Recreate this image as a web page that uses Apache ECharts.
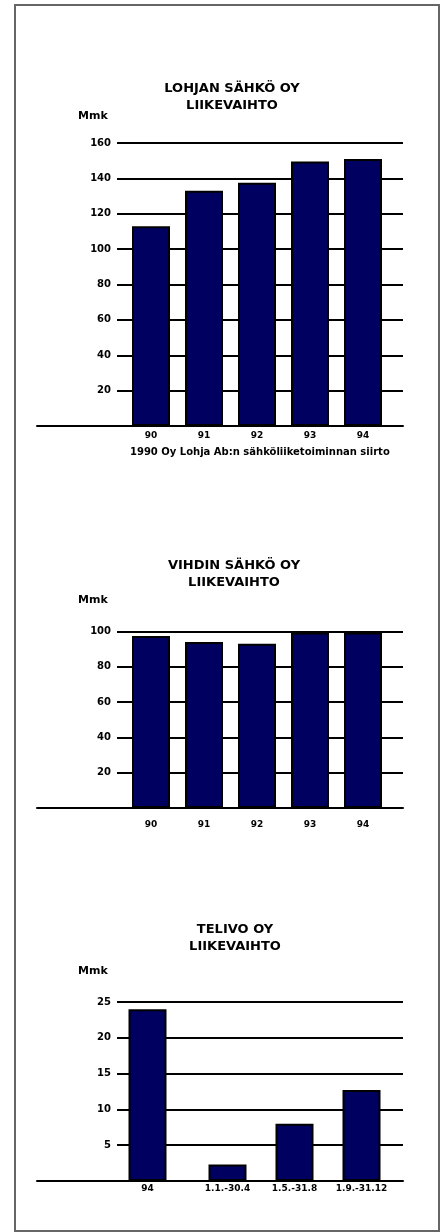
<!DOCTYPE html>
<html><head><meta charset="utf-8">
<script src="https://cdn.jsdelivr.net/npm/echarts@6/dist/echarts.min.js"></script>
<style>html,body{margin:0;padding:0;background:#fff}#c{width:442px;height:1232px}</style>
</head><body><div id="c"></div>
<script>
// ---- data ----
const title1 = "LOHJAN SÄHKÖ OY\nLIIKEVAIHTO";
const years1 = ["90", "91", "92", "93", "94"];
const values1 = [113, 133, 137.5, 149.5, 151];
const ticks1 = {min: 0, max: 160, interval: 20};
const footnote1 = "1990 Oy Lohja Ab:n sähköliiketoiminnan siirto";

const title2 = "VIHDIN SÄHKÖ OY\nLIIKEVAIHTO";
const years2 = ["90", "91", "92", "93", "94"];
const values2 = [97.5, 94, 93, 99.5, 99.5];
const ticks2 = {min: 0, max: 100, interval: 20};

const title3 = "TELIVO OY\nLIIKEVAIHTO";
const year3 = ["94"];
const value3 = [24];
const periods3 = ["1.1.-30.4", "1.5.-31.8", "1.9.-31.12"];
const periodValues3 = [2.3, 8, 12.7];
const ticks3 = {min: 0, max: 25, interval: 5};

const unit = "Mmk";

// ---- styles ----
const H = 1232, W = 442;
const NAVY = '#000060';
const FONT = 'DejaVu Sans';
const grids = [], xAxes = [], yAxes = [], series = [], graphics = [];

function addGrid(g) { grids.push(g); return grids.length - 1; }

function buildChart(cfg) {
  const top = cfg.top, bottom = H - cfg.zero;
  const gA = addGrid({left: 117, right: W - 403, top: top, bottom: bottom});
  xAxes.push({gridIndex: gA, type: 'category', show: false, data: []});
  yAxes.push({gridIndex: gA, type: 'value', min: cfg.ticks.min, max: cfg.ticks.max, interval: cfg.ticks.interval,
    axisLine: {show: false}, axisTick: {show: false},
    axisLabel: {color: '#000', fontFamily: FONT, fontWeight: 'bold', fontSize: 10, margin: 6,
      formatter: v => v === 0 ? '' : String(v)},
    splitLine: {lineStyle: {color: '#000', width: 2}}});
  const gB = addGrid({left: 37, right: W - 403, top: top, bottom: bottom});
  xAxes.push({gridIndex: gB, type: 'category', data: [], axisLine: {show: true, lineStyle: {color: '#000', width: 2}},
    axisTick: {show: false}, axisLabel: {show: false}, z: 5});
  yAxes.push({gridIndex: gB, type: 'value', show: false, min: cfg.ticks.min, max: cfg.ticks.max});
  cfg.bars.forEach(b => {
    const g = addGrid({left: b.left, right: W - b.rightEdge, top: top, bottom: bottom});
    xAxes.push({gridIndex: g, type: 'category', data: b.cats, axisLine: {show: false}, axisTick: {show: false},
      axisLabel: {color: '#000', fontFamily: FONT, fontWeight: 'bold', fontSize: 9, margin: cfg.labelMargin, interval: 0}});
    yAxes.push({gridIndex: g, type: 'value', show: false, min: cfg.ticks.min, max: cfg.ticks.max});
    series.push({type: 'bar', xAxisIndex: xAxes.length - 1, yAxisIndex: yAxes.length - 1, data: b.vals,
      barWidth: 38, itemStyle: {color: NAVY, borderColor: '#000', borderWidth: 2}, z: 2});
  });
  graphics.push({type: 'text', x: cfg.titleX, y: cfg.titleTop,
    style: {text: cfg.title, fill: '#000', font: 'bold 13px ' + FONT, textAlign: 'center', lineHeight: 17}});
  graphics.push({type: 'text', left: 78, top: cfg.unitTop,
    style: {text: unit, fill: '#000', font: 'bold 11px ' + FONT}});
}

buildChart({top: 143, zero: 426, ticks: ticks1, title: title1, titleX: 232, titleTop: 80, unitTop: 111, labelMargin: 5,
  bars: [{cats: years1, vals: values1, left: 124.5, rightEdge: 389.5}]});
buildChart({top: 631.5, zero: 808, ticks: ticks2, title: title2, titleX: 234, titleTop: 557, unitTop: 595, labelMargin: 12,
  bars: [{cats: years2, vals: values2, left: 124.5, rightEdge: 389.5}]});
buildChart({top: 1002, zero: 1181, ticks: ticks3, title: title3, titleX: 235, titleTop: 921, unitTop: 966, labelMargin: 3,
  bars: [{cats: year3, vals: value3, left: 121, rightEdge: 174},
         {cats: periods3, vals: periodValues3, left: 194, rightEdge: 395}]});

graphics.push({type: 'text', left: 130, top: 447,
  style: {text: footnote1, fill: '#000', font: 'bold 10px ' + FONT}});
graphics.push({type: 'rect', shape: {x: 15, y: 5, width: 424, height: 1226},
  style: {fill: 'none', stroke: '#666', lineWidth: 2}, z: 10});

const chart = echarts.init(document.getElementById('c'), null, {renderer: 'canvas'});
chart.setOption({animation: false, backgroundColor: '#fff', grid: grids, xAxis: xAxes, yAxis: yAxes,
  series: series, graphic: graphics});
</script></body></html>
